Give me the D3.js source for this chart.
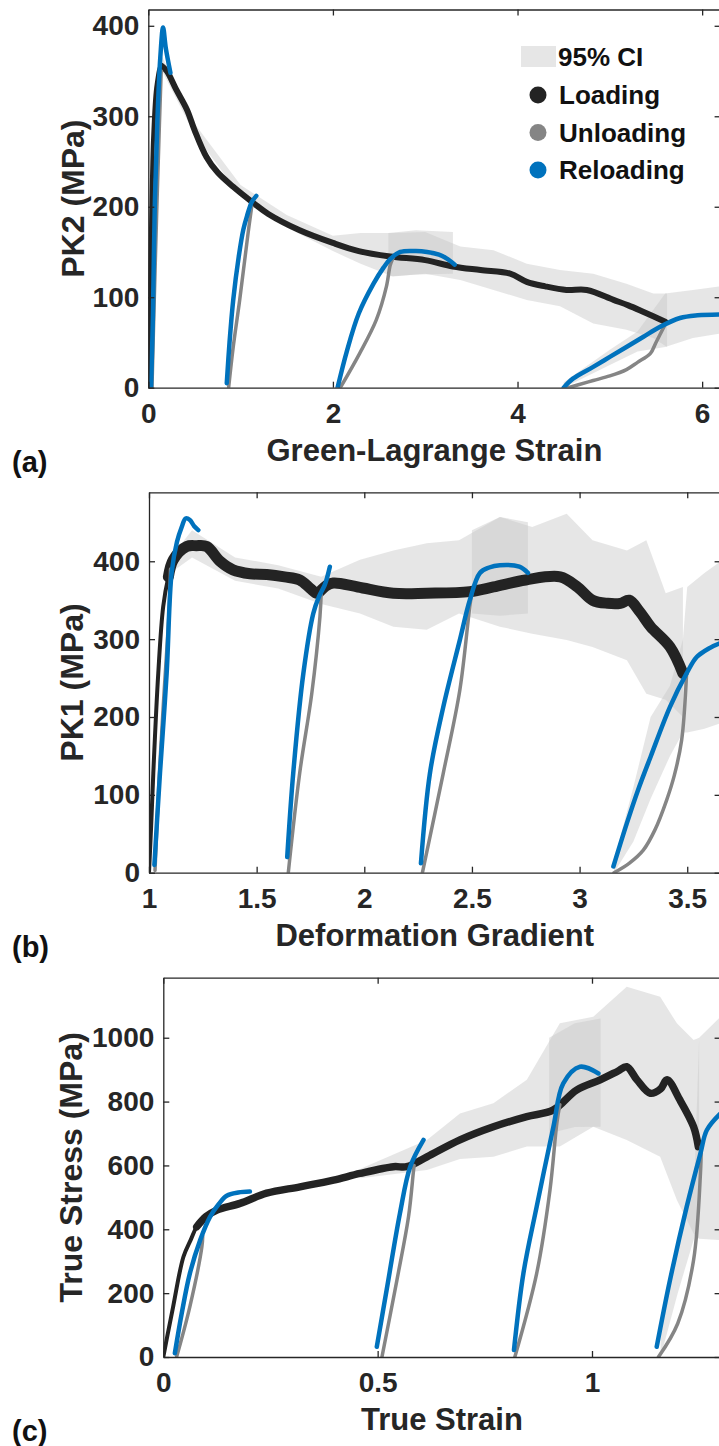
<!DOCTYPE html>
<html>
<head>
<meta charset="utf-8">
<script src="https://cdn.jsdelivr.net/npm/d3@7"></script>
<style>
body{margin:0;background:#fff;}
text{font-family:"Liberation Sans",Arial,sans-serif;font-weight:bold;}
</style>
</head>
<body>
<svg id="fig"></svg>
<script>
// ---- panel (a): Green-Lagrange strain vs PK2 ----
var gLoad = [[0,0],[0.01,60],[0.03,180],[0.054,281],[0.09,335],[0.14,356],[0.2,350],[0.3,330],[0.42,307],[0.5,285],[0.63,255],[0.75,238],[0.92,222],[1.14,204],[1.3,192],[1.64,174],[2.0,160],[2.28,151],[2.62,145],[3.0,141],[3.3,134],[3.6,130],[3.92,126],[4.1,117],[4.3,112],[4.53,108],[4.75,108],[5.04,97],[5.2,91],[5.36,84],[5.6,73]];
var gUnload = [
    [[0.14,350],[0.12,290],[0.09,190],[0.06,80],[0.04,0]],
    [[1.12,200],[1.08,170],[0.99,97],[0.92,45],[0.87,0]],
    [[2.65,143],[2.62,135],[2.58,112],[2.47,75],[2.29,38],[2.08,0]],
    [[5.6,70],[5.5,50],[5.44,38],[5.3,28],[5.18,20],[5.0,13],[4.82,8],[4.65,3],[4.55,0]]
];
var gReload = [
    [[0.03,0],[0.05,80],[0.07,200],[0.1,300],[0.13,365],[0.16,398],[0.19,375],[0.24,348]],
    [[0.85,5],[0.88,50],[0.92,97],[0.98,145],[1.03,175],[1.07,190],[1.12,205],[1.17,212]],
    [[2.05,0],[2.15,40],[2.28,82],[2.44,115],[2.55,133],[2.62,142],[2.73,150],[2.9,151],[3.02,150],[3.15,147],[3.23,143],[3.32,136]],
    [[4.5,0],[4.6,10],[4.82,23],[5.0,34],[5.18,45],[5.36,56],[5.54,67],[5.76,77],[5.95,80],[6.2,81]]
];
var gLoadCI = [[0.15,350,366],[0.5,280,292],[1.0,212,224],[1.5,177,191],[2.0,151,168],[2.3,137,171],[2.65,123,171],[3.0,126,172],[3.38,119,156],[3.74,108,152],[4.1,97,137],[4.46,90,130],[4.82,71,126],[5.18,64,115],[5.47,55,104],[5.62,45,104]];
var gReloadCI = [
    [[2.6,123,171],[2.9,125,174],[3.3,126,172]],
    [[4.5,0,6],[5.0,25,42],[5.3,40,62],[5.6,45,104],[5.9,55,108],[6.2,60,112]]
];

// ---- panel (b): deformation gradient vs PK1 ----
var fLoad = [[1.0,0],[1.01,60],[1.02,128],[1.043,256],[1.066,342],[1.09,380],[1.113,402],[1.175,419],[1.22,420],[1.268,419],[1.33,400],[1.39,389],[1.47,384],[1.547,383],[1.63,380],[1.70,376],[1.75,365],[1.78,359],[1.82,368],[1.856,372],[1.97,367],[2.135,359],[2.29,359],[2.49,361],[2.6,367],[2.75,376],[2.91,380],[2.99,367],[3.06,350],[3.13,346],[3.19,346],[3.23,350],[3.28,335],[3.33,316],[3.42,290],[3.48,256]];
var fUnload = [
    [[1.1,390],[1.094,340],[1.066,213],[1.045,110],[1.028,3]],
    [[1.80,360],[1.794,329],[1.756,230],[1.70,128],[1.647,0]],
    [[2.50,360],[2.49,342],[2.444,235],[2.367,128],[2.27,0]],
    [[3.497,256],[3.474,170],[3.44,125],[3.404,93],[3.35,55],[3.296,29],[3.23,12],[3.16,0]]
];
var fReload = [
    [[1.025,10],[1.051,128],[1.082,256],[1.105,385],[1.13,425],[1.152,444],[1.17,455],[1.19,453],[1.21,445],[1.229,440]],
    [[1.642,20],[1.67,128],[1.717,256],[1.763,333],[1.79,355],[1.817,370],[1.84,393]],
    [[2.263,12],[2.305,128],[2.367,213],[2.444,299],[2.49,350],[2.537,385],[2.58,392],[2.63,395],[2.72,393],[2.76,385]],
    [[3.157,8],[3.219,63],[3.27,105],[3.33,149],[3.42,213],[3.497,256],[3.544,277],[3.6,288],[3.655,295]]
];
var fLoadCI = [[1.1,385,405],[1.2,405,440],[1.4,375,405],[1.6,365,395],[1.8,345,380],[1.98,333,402],[2.135,316,414],[2.29,312,423],[2.44,333,427],[2.63,316,457],[2.78,307,444],[2.94,299,461],[3.06,290,427],[3.22,273,414],[3.31,230,427],[3.40,222,359],[3.48,200,367]];
var fReloadCI = [
    [[2.5,333,440],[2.63,330,457],[2.76,333,450]],
    [[3.16,0,15],[3.25,40,110],[3.33,95,200],[3.42,150,240],[3.48,180,300],[3.5,180,367],[3.58,185,385],[3.655,192,400]]
];

// ---- panel (c): true strain vs true stress ----
var tLoad = [[0,0],[0.01,70],[0.023,158],[0.047,314],[0.065,370],[0.078,408],[0.1,440],[0.125,460],[0.179,481],[0.241,513],[0.319,533],[0.397,554],[0.459,575],[0.537,596],[0.568,596],[0.615,627],[0.692,680],[0.77,721],[0.848,753],[0.91,774],[0.964,836],[1.019,868],[1.06,895],[1.081,909],[1.105,868],[1.136,826],[1.16,840],[1.175,868],[1.205,805],[1.237,721],[1.248,659]];
var tUnload = [
    [[0.092,380],[0.09,345],[0.062,158],[0.031,0]],
    [[0.585,600],[0.583,575],[0.572,439],[0.545,241],[0.51,0]],
    [[0.925,790],[0.918,732],[0.902,523],[0.871,262],[0.82,0]],
    [[1.255,660],[1.253,575],[1.237,304],[1.2,105],[1.155,0]]
];
var tReload = [
    [[0.027,12],[0.043,137],[0.062,262],[0.086,366],[0.109,439],[0.13,480],[0.148,505],[0.175,515],[0.202,518]],
    [[0.498,32],[0.521,210],[0.552,450],[0.576,596],[0.607,680]],
    [[0.818,22],[0.84,262],[0.871,471],[0.91,721],[0.933,857],[0.972,909],[1.015,888]],
    [[1.151,32],[1.182,241],[1.221,471],[1.253,638],[1.268,711],[1.3,763]]
];
var tLoadCI = [[0.46,560,590],[0.615,586,680],[0.692,620,763],[0.77,627,795],[0.848,659,868],[0.925,659,1045],[1.003,721,1066],[1.081,680,1160],[1.159,627,1128],[1.198,492,1045],[1.237,387,993],[1.25,370,1000]];
var tReloadCI = [
    [[0.9,700,1000],[0.96,720,1045],[1.02,721,1060]],
    [[1.16,0,80],[1.2,200,350],[1.24,380,600],[1.25,370,1000],[1.3,366,1066]]
];

// ticks and labels
var gXTicks = [0,2,4,6], gYTicks = [0,100,200,300,400];
var fXTicks = [1,1.5,2,2.5,3,3.5], fYTicks = [0,100,200,300,400];
var tXTicks = [0,0.5,1], tYTicks = [0,200,400,600,800,1000];
var legendNames = ["Loading","Unloading","Reloading"];

var colors = {load:"#232323", unload:"#858585", reload:"#0072BD", ci:"#c8c8c8", axis:"#262626"};

var svg = d3.select("#fig")
    .attr("width",719)
    .attr("height",1446);

var drawPanel = function(cfg)
{
    var xScale = d3.scaleLinear()
        .domain(cfg.xDomain)
        .range([cfg.left,cfg.right]);
    var yScale = d3.scaleLinear()
        .domain(cfg.yDomain)
        .range([cfg.bottom,cfg.top]);

    svg.append("clipPath")
        .attr("id","clip"+cfg.name)
        .append("rect")
        .attr("x",cfg.left).attr("y",cfg.top)
        .attr("width",cfg.right-cfg.left)
        .attr("height",cfg.bottom-cfg.top);

    var plot = svg.append("g")
        .attr("clip-path","url(#clip"+cfg.name+")");

    var band = d3.area()
        .x(function(d){return xScale(d[0]);})
        .y0(function(d){return yScale(d[1]);})
        .y1(function(d){return yScale(d[2]);});

    var line = d3.line()
        .x(function(d){return xScale(d[0]);})
        .y(function(d){return yScale(d[1]);})
        .curve(d3.curveCatmullRom);

    // confidence bands
    plot.selectAll("path.ci")
        .data([cfg.loadCI].concat(cfg.reloadCI))
        .enter()
        .append("path")
        .attr("class","ci")
        .attr("d",band)
        .attr("fill",colors.ci)
        .attr("fill-opacity",0.45);

    // loading: thin on the steep rise, thicker (noisy) along the plateau
    plot.append("path")
        .datum(cfg.load)
        .attr("d",line)
        .attr("fill","none")
        .attr("stroke",colors.load)
        .attr("stroke-width",4)
        .attr("stroke-linecap","round")
        .attr("stroke-linejoin","round");
    plot.append("path")
        .datum(cfg.load.filter(function(d){return d[0]>=cfg.thickFrom;}))
        .attr("d",line)
        .attr("fill","none")
        .attr("stroke",colors.load)
        .attr("stroke-width",cfg.loadWidth)
        .attr("stroke-linecap","round")
        .attr("stroke-linejoin","round");

    plot.selectAll("path.unload")
        .data(cfg.unload)
        .enter()
        .append("path")
        .attr("class","unload")
        .attr("d",line)
        .attr("fill","none")
        .attr("stroke",colors.unload)
        .attr("stroke-width",3.5)
        .attr("stroke-linecap","round");

    plot.selectAll("path.reload")
        .data(cfg.reload)
        .enter()
        .append("path")
        .attr("class","reload")
        .attr("d",line)
        .attr("fill","none")
        .attr("stroke",colors.reload)
        .attr("stroke-width",4.5)
        .attr("stroke-linecap","round")
        .attr("stroke-linejoin","round");

    // axes, MATLAB style box with inward ticks
    var styleAxis = function(a)
    {
        a.attr("font-size",28)
         .attr("font-family","'Liberation Sans',Arial,sans-serif")
         .attr("font-weight","bold")
         .attr("color",colors.axis);
        a.selectAll("line").attr("stroke-width",1.3);
        a.select(".domain").attr("stroke-width",1.3);
    }
    svg.append("g")
        .attr("transform","translate(0,"+cfg.bottom+")")
        .call(d3.axisBottom(xScale).tickValues(cfg.xTicks)
              .tickSizeInner(-6).tickSizeOuter(0).tickPadding(15)
              .tickFormat(d3.format("")))
        .call(styleAxis);
    svg.append("g")
        .attr("transform","translate("+cfg.left+",0)")
        .call(d3.axisLeft(yScale).tickValues(cfg.yTicks)
              .tickSizeInner(-6).tickSizeOuter(0).tickPadding(9)
              .tickFormat(d3.format("")))
        .call(styleAxis);
    svg.append("g")
        .attr("transform","translate(0,"+cfg.top+")")
        .call(d3.axisTop(xScale).tickValues(cfg.xTicks)
              .tickSizeInner(-6).tickSizeOuter(0).tickFormat(""))
        .call(styleAxis);
    svg.append("g")
        .attr("transform","translate("+cfg.right+",0)")
        .call(d3.axisRight(yScale).tickValues(cfg.yTicks)
              .tickSizeInner(-6).tickSizeOuter(0).tickFormat(""))
        .call(styleAxis);

    // labels
    svg.append("text")
        .text(cfg.xLabel)
        .attr("x",(cfg.left+cfg.right)/2)
        .attr("y",cfg.bottom+62)
        .attr("dy","0.35em")
        .attr("text-anchor","middle")
        .attr("font-size",31)
        .attr("fill",colors.axis);

    svg.append("g")
        .attr("transform","translate("+(cfg.left-cfg.yLabelOff)+","+((cfg.top+cfg.bottom)/2)+")")
        .append("text")
        .text(cfg.yLabel)
        .attr("transform","rotate(-90)")
        .attr("dy","0.35em")
        .attr("text-anchor","middle")
        .attr("font-size",32)
        .attr("fill",colors.axis);

    svg.append("text")
        .text(cfg.tag)
        .attr("x",12)
        .attr("y",cfg.bottom+74)
        .attr("dy","0.35em")
        .attr("font-size",29)
        .attr("font-family","'Liberation Serif','Times New Roman',serif")
        .attr("fill","#111");
}

drawPanel({name:"a", left:148.3, right:720.6, top:9.5, bottom:387.7,
           xDomain:[0,6.2], yDomain:[0,418], xTicks:gXTicks, yTicks:gYTicks,
           load:gLoad, unload:gUnload, reload:gReload, loadCI:gLoadCI, reloadCI:gReloadCI,
           thickFrom:0.14, loadWidth:6, xLabel:"Green-Lagrange Strain", yLabel:"PK2 (MPa)", yLabelOff:76, tag:"(a)"});
drawPanel({name:"b", left:149, right:720.6, top:492.3, bottom:872.7,
           xDomain:[1,3.655], yDomain:[0,488.6], xTicks:fXTicks, yTicks:fYTicks,
           load:fLoad, unload:fUnload, reload:fReload, loadCI:fLoadCI, reloadCI:fReloadCI,
           thickFrom:1.09, loadWidth:11, xLabel:"Deformation Gradient", yLabel:"PK1 (MPa)", yLabelOff:77, tag:"(b)"});
drawPanel({name:"c", left:163.3, right:720.6, top:977.7, bottom:1357,
           xDomain:[0,1.3], yDomain:[0,1188], xTicks:tXTicks, yTicks:tYTicks,
           load:tLoad, unload:tUnload, reload:tReload, loadCI:tLoadCI, reloadCI:tReloadCI,
           thickFrom:0.078, loadWidth:7.5, xLabel:"True Strain", yLabel:"True Stress (MPa)", yLabelOff:93, tag:"(c)"});

// legend in panel (a)
var legend = svg.append("g");
legend.append("rect")
    .attr("x",521).attr("y",46).attr("width",35).attr("height",21)
    .attr("fill","#e6e6e6");
legend.append("text")
    .text("95% CI")
    .attr("x",558).attr("y",57).attr("dy","0.35em")
    .attr("font-size",26).attr("fill","#111");
var legendColors = [colors.load,colors.unload,colors.reload];
legend.selectAll("circle")
    .data(legendNames)
    .enter()
    .append("circle")
    .attr("cx",538)
    .attr("cy",function(d,i){return 95+i*37.5;})
    .attr("r",8.5)
    .attr("fill",function(d,i){return legendColors[i];});
legend.selectAll("text.item")
    .data(legendNames)
    .enter()
    .append("text")
    .attr("class","item")
    .text(function(d){return d;})
    .attr("x",559)
    .attr("y",function(d,i){return 95+i*37.5;})
    .attr("dy","0.35em")
    .attr("font-size",26)
    .attr("fill","#111");
</script>
</body>
</html>
